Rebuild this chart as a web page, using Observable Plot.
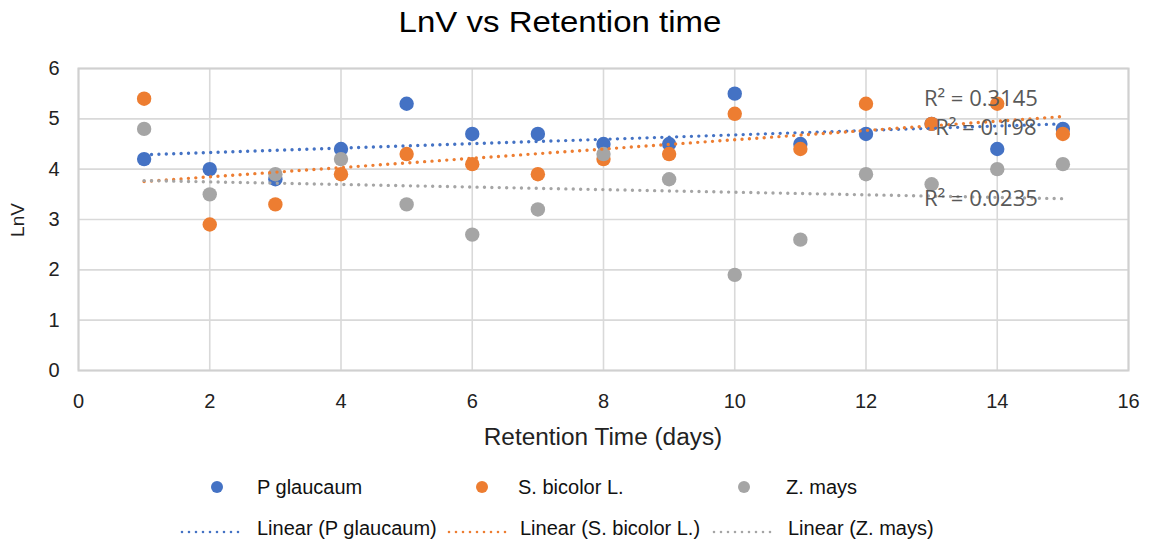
<!DOCTYPE html>
<html><head><meta charset="utf-8">
<script src="https://cdn.jsdelivr.net/npm/d3@7"></script>
<script src="https://cdn.jsdelivr.net/npm/@observablehq/plot@0.6"></script>
<style>
body{margin:0;background:#fff;font-family:"Liberation Sans",Arial,sans-serif;}
#wrap{position:relative;width:1154px;height:542px;overflow:hidden;background:#fff;}
#title{position:absolute;top:0;left:-17px;width:1154px;text-align:center;font-size:30px;line-height:44px;color:#000;transform:scaleX(1.1);transform-origin:577px 0;}
#chart{position:absolute;top:50px;left:0;}
#xlabel{position:absolute;top:423px;left:78px;width:1050px;text-align:center;font-size:23px;line-height:28px;color:#222;transform:scaleX(1.06);transform-origin:525px 0;}
#ylabel{position:absolute;left:18px;top:220px;transform:translate(-50%,-50%) rotate(-90deg);font-size:19px;color:#222;}
.leg{position:absolute;font-size:20px;color:#111;white-space:nowrap;line-height:24px;}
.sw{position:absolute;}
</style></head><body>
<div id="wrap">
<div id="title">LnV vs Retention time</div>
<div id="chart"></div>
<div id="xlabel">Retention Time (days)</div>
<div id="ylabel">LnV</div>
<div id="legend"></div>
</div>
<script>
const days = [1,2,3,4,5,6,7,8,9,10,11,12,13,14,15];
const pGlaucaum = [4.2,4.0,3.8,4.4,5.3,4.7,4.7,4.5,4.5,5.5,4.5,4.7,4.9,4.4,4.8];
const sBicolor  = [5.4,2.9,3.3,3.9,4.3,4.1,3.9,4.2,4.3,5.1,4.4,5.3,4.9,5.3,4.7];
const zMays     = [4.8,3.5,3.9,4.2,3.3,2.7,3.2,4.3,3.8,1.9,2.6,3.9,3.7,4.0,4.1];
const seriesNames = ["P glaucaum","S. bicolor L.","Z. mays"];
const seriesColors = ["#4472C4","#ED7D31","#A5A5A5"];
const r2Labels = ["R² = 0.198","R² = 0.3145","R² = 0.0235"];
const xTicks = [0,2,4,6,8,10,12,14,16];
const yTicks = [0,1,2,3,4,5,6];

const seriesValues = [pGlaucaum, sBicolor, zMays];
const rows = [];
seriesValues.forEach((vals,i)=>vals.forEach((v,j)=>rows.push({day:days[j], value:v, series:seriesNames[i]})));

// least-squares fit, used to anchor the R² labels on each trendline
function fit(xs, ys){
  const mx=d3.mean(xs), my=d3.mean(ys);
  let sxy=0,sxx=0; xs.forEach((x,i)=>{sxy+=(x-mx)*(ys[i]-my); sxx+=(x-mx)**2;});
  const b=sxy/sxx; return x=>my+b*(x-mx);
}
const labelX = 13.75;
const labelDx = [5,0,0];
const labelDy = [1,-23,1.5];
const r2Rows = seriesValues.map((vals,i)=>({x:labelX, y:fit(days,vals)(labelX), text:r2Labels[i], dx:labelDx[i], dy:labelDy[i]}));

const chart = Plot.plot({
  width:1154, height:400,
  marginTop:18, marginBottom:80, marginLeft:78, marginRight:26,
  style:{fontFamily:'"Liberation Sans",Arial,sans-serif', color:"#222", background:"#fff"},
  x:{domain:[0,16], ticks:xTicks},
  y:{domain:[0,6], ticks:yTicks},
  color:{domain:seriesNames, range:seriesColors},
  marks:[
    Plot.gridX(xTicks,{stroke:"#d9d9d9", strokeOpacity:1, strokeWidth:1.6}),
    Plot.gridY(yTicks,{stroke:"#d9d9d9", strokeOpacity:1, strokeWidth:1.6}),
    Plot.frame({stroke:"#d0d0d0", strokeWidth:2}),
    Plot.axisX({ticks:xTicks, tickSize:0, tickPadding:23, fontSize:20, tickFormat:d=>String(d), label:null}),
    Plot.axisY({ticks:yTicks, tickSize:0, tickPadding:19, fontSize:20, tickFormat:d=>String(d), label:null}),
    Plot.dot(rows,{x:"day", y:"value", fill:"series", r:7.2}),
    Plot.linearRegressionY(rows,{x:"day", y:"value", stroke:"series", ci:0, strokeWidth:3.4, strokeDasharray:"0,7.4", strokeLinecap:"round"}),
    ...r2Rows.map(d=>Plot.text([d],{x:"x", y:"y", text:"text", dx:d.dx, dy:d.dy, fontSize:22, fill:"#595959", fontFamily:'"Open Sans",sans-serif'}))
  ]
});
document.getElementById("chart").appendChild(chart);

// legend (HTML, below the SVG)
const leg = document.getElementById("legend");
function add(html, left, top, cls){
  const d=document.createElement("div"); d.className=cls; d.style.left=left+"px"; d.style.top=top+"px"; d.innerHTML=html; leg.appendChild(d);
}
const dotX = [217,482,744], dotText = [257,518,786];
seriesNames.forEach((name,i)=>{
  add(`<svg width="14" height="14"><circle cx="7" cy="7" r="6" fill="${seriesColors[i]}"/></svg>`, dotX[i]-7, 480, "sw");
  add(name, dotText[i], 475, "leg");
});
const lineX = [180,447,712], lineText = [257,520,788];
seriesNames.forEach((name,i)=>{
  add(`<svg width="66" height="10"><line x1="2" y1="5" x2="64" y2="5" stroke="${seriesColors[i]}" stroke-width="2.6" stroke-dasharray="0,7" stroke-linecap="round"/></svg>`, lineX[i], 523, "sw");
  add(`Linear (${name})`, lineText[i], 516, "leg");
});
</script>
</body></html>
